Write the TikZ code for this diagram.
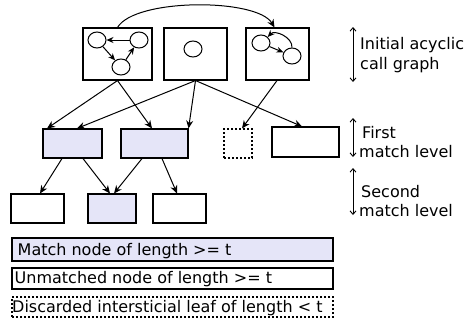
\documentclass[tikz,border=0pt]{standalone}
\usepackage{fontspec}
\setmainfont{DejaVu Sans}
\usetikzlibrary{arrows.meta,shapes.geometric}
\definecolor{matchfill}{RGB}{229,229,248}
\begin{document}
\begin{tikzpicture}[x=1pt,y=-1pt,
  font=\fontsize{16}{19}\selectfont,
  box/.style={draw,line width=1.1pt,inner sep=0pt,rectangle},
  matched/.style={box,fill=matchfill},
  unmatched/.style={box,fill=white},
  discarded/.style={box,dashed,dash pattern=on 2pt off 2pt},
  fn/.style={draw,ellipse,line width=1pt,minimum width=18pt,minimum height=16pt,inner sep=0pt},
  arr/.style={-{Stealth[length=8pt,width=7pt]},line width=1pt},
  sarr/.style={-{Stealth[length=7pt,width=6pt]},line width=1pt},
  dim/.style={{Straight Barb[length=3.5pt,width=6pt]}-{Straight Barb[length=3.5pt,width=6pt]},line width=0.9pt},
  lbl/.style={anchor=base west,inner sep=0pt}]
\useasboundingbox (0,0) rectangle (466,322);

% top row
\node[box,minimum width=69pt,minimum height=52pt] (t1) at (117.5,54) {};
\node[box,minimum width=63pt,minimum height=52pt] (t2) at (195.5,54) {};
\node[box,minimum width=63pt,minimum height=52pt] (t3) at (277.5,54) {};

% functions inside
\node[fn] (c1) at (97,40) {};
\node[fn] (c2) at (139,40) {};
\node[fn] (c3) at (121,67) {};
\node[fn] (c0) at (193,49) {};
\node[fn] (c4) at (261,43) {};
\node[fn] (c5) at (292,56) {};
\draw[sarr] (c2) -- (c1);
\draw[sarr] (c1) -- (c3);
\draw[sarr] (c3) -- (c2);
\draw[sarr] (c4) -- (c5);
\draw[sarr] (c5.north) to[bend right=70] (c4.north east);

% big arc
\draw[arr] (t1.north) .. controls (135,-2) and (257,-2) .. ([xshift=-3pt]t3.north);

% second row
\node[matched,minimum width=59pt,minimum height=29pt] (A) at (72.5,143.5) {};
\node[matched,minimum width=67pt,minimum height=29pt] (B) at (154.5,143.5) {};
\node[discarded,minimum width=28pt,minimum height=29pt] (X) at (238,143.5) {};
\node[unmatched,minimum width=67pt,minimum height=30pt] (W) at (305.5,142) {};

% third row
\node[unmatched,minimum width=53pt,minimum height=29pt] (C) at (37.5,208.5) {};
\node[matched,minimum width=48pt,minimum height=29pt] (D) at (112,208.5) {};
\node[unmatched,minimum width=53pt,minimum height=29pt] (E) at (179.5,208.5) {};

% arrows row 1 -> row 2
\draw[arr] (t1.south) -- (47,0 |- A.north);
\draw[arr] (t1.south) -- (152,0 |- B.north);
\draw[arr] (t2.south) -- (77,0 |- A.north);
\draw[arr] (t2.south) -- (B.north east);
\draw[arr] (t2.south) -- (302,0 |- W.north);
\draw[arr] (277,0 |- t3.south) -- (242,0 |- X.north);

% arrows row 2 -> row 3
\draw[arr] (62,0 |- A.south) -- (40,0 |- C.north);
\draw[arr] (83,0 |- A.south) -- (110,0 |- D.north);
\draw[arr] (142,0 |- B.south) -- (114,0 |- D.north);
\draw[arr] (162,0 |- B.south) -- (177,0 |- E.north);

% right-hand level markers
\coordinate (m1a) at (353,27);
\coordinate (m1b) at (353,82);
\coordinate (m2a) at (353,118);
\coordinate (m2b) at (353,157);
\coordinate (m3a) at (353,168);
\coordinate (m3b) at (353,215);
\draw[dim] (m1a) -- (m1b);
\draw[dim] (m2a) -- (m2b);
\draw[dim] (m3a) -- (m3b);
\node[lbl] (r1a) at (360,49.5) {Initial acyclic};
\node[lbl] (r1b) at (360,69.5) {call graph};
\node[lbl] (r2a) at (362,138) {First};
\node[lbl] (r2b) at (359,157) {match level};
\node[lbl] (r3a) at (361,197) {Second};
\node[lbl] (r3b) at (359,216) {match level};

% legend
\node[matched,minimum width=321pt,minimum height=23pt] (L1) at (172.5,249.5) {};
\node[unmatched,minimum width=321pt,minimum height=21pt] (L2) at (172.5,278.5) {};
\node[discarded,minimum width=321pt,minimum height=20pt] (L3) at (172.5,307) {};
\node[lbl] (L1t) at (17.5,255) {Match node of length >= t};
\node[lbl] (L2t) at (14.5,283.5) {Unmatched node of length >= t};
\node[lbl] (L3t) at (12,312) {Discarded intersticial leaf of length < t};
\end{tikzpicture}
\end{document}
